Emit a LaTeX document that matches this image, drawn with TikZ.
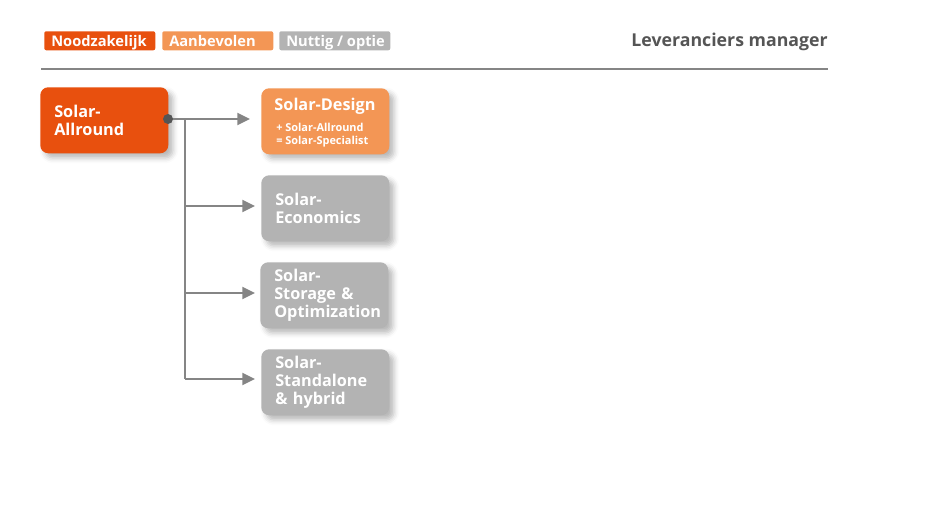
\documentclass[tikz,border=0pt]{standalone}
\usepackage{fontspec}
\setmainfont{Open Sans}
\usetikzlibrary{arrows.meta,shadows.blur}
\definecolor{cRed}{HTML}{E8500E}
\definecolor{cOra}{HTML}{F39655}
\definecolor{cGry}{HTML}{B3B3B3}
\definecolor{cLine}{HTML}{858585}
\definecolor{cTitle}{HTML}{555555}
\tikzset{
  legendbox/.style={anchor=north west, minimum width=83.25pt, minimum height=14.25pt, inner sep=0pt, rounded corners=1.5pt},
  legendtext/.style={anchor=base west, inner sep=0pt, text=white, font=\bfseries\fontsize{11}{12}\selectfont},
  cardbox/.style={anchor=north west, minimum width=96pt, minimum height=49.5pt, text width=75pt, inner xsep=10.5pt, align=left, rounded corners=6pt, text=white, font=\bfseries\fontsize{12.2}{13.4}\selectfont, blur shadow={shadow xshift=3.5pt, shadow yshift=-3.5pt, shadow blur radius=4pt, shadow opacity=28}},
  conn/.style={draw=cLine, line width=1.5pt},
  arr/.style={conn, -{Triangle[length=9.5pt,width=9pt]}},
}
\begin{document}
\begin{tikzpicture}[x=0.75pt,y=-0.75pt]
\useasboundingbox (0,0) rectangle (947,523);
% legend
\node[legendbox, fill=cRed] (lg1) at (44,31) {};
\node[legendbox, fill=cOra] (lg2) at (162,31) {};
\node[legendbox, fill=cGry] (lg3) at (279,31) {};
\node[legendtext] (lg1t) at (51,46.5) {Noodzakelijk};
\node[legendtext] (lg2t) at (169,46.5) {Aanbevolen};
\node[legendtext] (lg3t) at (286,46.5) {Nuttig / optie};
\node[anchor=base east, inner sep=0pt, text=cTitle, font=\bfseries\fontsize{13.3}{15}\selectfont] (title) at (828,47) {Leveranciers manager};
\coordinate (hl) at (41,69);
\coordinate (hr) at (828,69);
\draw[draw=cLine, line width=1.5pt] (hl) -- (hr);
% boxes
\node[cardbox, fill=cRed] (allround) at (40,87) {Solar-\\Allround};
\node[cardbox, fill=cOra] (design) at (261,88) {};
\node[anchor=center, inner sep=0pt, text=white, font=\bfseries\fontsize{12.2}{13.4}\selectfont] (designt) at (325,106) {Solar-Design};
\node[anchor=west, inner sep=0pt, align=left, text=white, font=\bfseries\fontsize{8.2}{9.75}\selectfont] (designs) at (276,135) {+ Solar-Allround\\= Solar-Specialist};
\node[cardbox, fill=cGry] (econ) at (261,175) {Solar-\\Economics};
\node[cardbox, fill=cGry] (stor) at (260,262) {Solar-\\Storage \&\\Optimization};
\node[cardbox, fill=cGry] (stand) at (261,349) {Solar-\\Standalone\\\& hybrid};
% connectors
\coordinate (dot) at (168,119);
\coordinate (j1) at (185,119);
\coordinate (j2) at (185,206);
\coordinate (j3) at (185,293);
\coordinate (j4) at (185,379);
\coordinate (t1) at (250,119);
\coordinate (t2) at (255,206);
\coordinate (t3) at (255,293);
\coordinate (t4) at (255,379);
\draw[conn] (j1) -- (j4);
\draw[arr] (dot) -- (t1);
\draw[arr] (j2) -- (t2);
\draw[arr] (j3) -- (t3);
\draw[arr] (j4) -- (t4);
\fill[cTitle] (dot) circle (3.75pt);
\end{tikzpicture}
\end{document}
